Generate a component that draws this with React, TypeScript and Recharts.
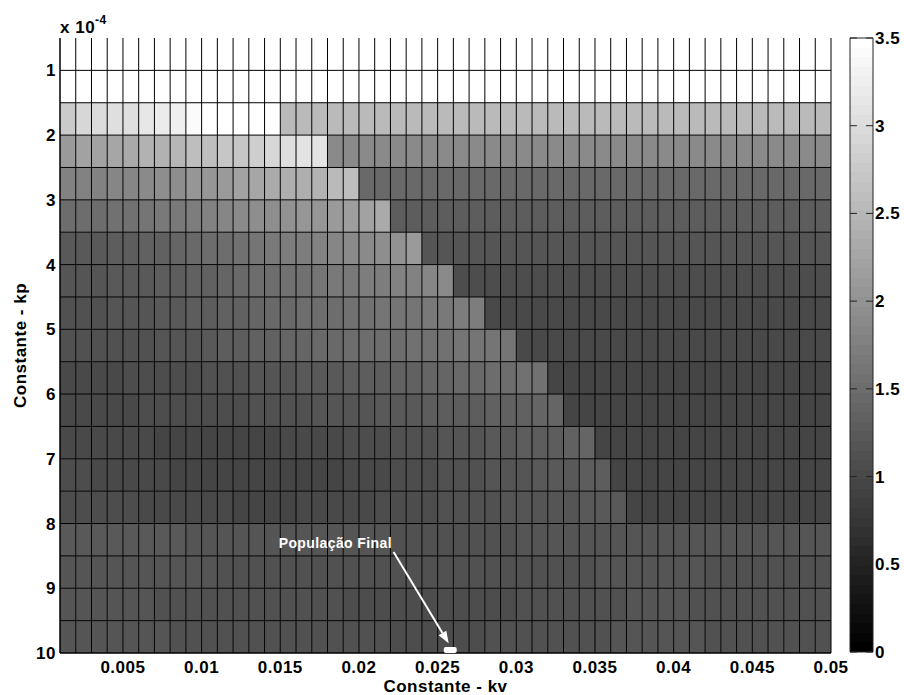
import React from 'react';
import {
  ComposedChart,
  XAxis,
  YAxis,
  ReferenceArea,
  ReferenceLine,
  ReferenceDot,
  Scatter,
} from 'recharts';

// cell edges: kv on x, kp on y (kp in units of 1e-4)
const kvEdges = [
  0.001, 0.002, 0.003, 0.004, 0.005, 0.006, 0.007, 0.008, 0.009, 0.01,
  0.011, 0.012, 0.013, 0.014, 0.015, 0.016, 0.017, 0.018, 0.019, 0.02,
  0.021, 0.022, 0.023, 0.024, 0.025, 0.026, 0.027, 0.028, 0.029, 0.03,
  0.031, 0.032, 0.033, 0.034, 0.035, 0.036, 0.037, 0.038, 0.039, 0.04,
  0.041, 0.042, 0.043, 0.044, 0.045, 0.046, 0.047, 0.048, 0.049, 0.05,
];
const kpEdges = [0.5, 1, 1.5, 2, 2.5, 3, 3.5, 4, 4.5, 5, 5.5, 6, 6.5, 7, 7.5, 8, 8.5, 9, 9.5, 10];

const xTicks = [0.005, 0.01, 0.015, 0.02, 0.025, 0.03, 0.035, 0.04, 0.045, 0.05];
const yTicks = [1, 2, 3, 4, 5, 6, 7, 8, 9, 10];
const colorTicks = [0, 0.5, 1, 1.5, 2, 2.5, 3, 3.5];

// one row of cells per kp band, 49 kv columns each
const kp05 = [
  3.5, 3.5, 3.5, 3.5, 3.5, 3.5, 3.5,
  3.5, 3.5, 3.5, 3.5, 3.5, 3.5, 3.5,
  3.5, 3.5, 3.5, 3.5, 3.5, 3.5, 3.5,
  3.5, 3.5, 3.5, 3.5, 3.5, 3.5, 3.5,
  3.5, 3.5, 3.5, 3.5, 3.5, 3.5, 3.5,
  3.5, 3.5, 3.5, 3.5, 3.5, 3.5, 3.5,
  3.5, 3.5, 3.5, 3.5, 3.5, 3.5, 3.5,
];
const kp10 = [
  3.5, 3.5, 3.5, 3.5, 3.5, 3.5, 3.5,
  3.5, 3.5, 3.5, 3.5, 3.5, 3.5, 3.5,
  3.5, 3.5, 3.5, 3.5, 3.5, 3.5, 3.5,
  3.5, 3.5, 3.5, 3.5, 3.5, 3.5, 3.5,
  3.5, 3.5, 3.5, 3.5, 3.5, 3.5, 3.5,
  3.5, 3.5, 3.5, 3.5, 3.5, 3.5, 3.5,
  3.5, 3.5, 3.5, 3.5, 3.5, 3.5, 3.5,
];
const kp15 = [
  2.75, 2.92, 2.97, 3.03, 3.06, 3.16, 3.2,
  3.24, 3.4, 3.5, 3.5, 3.5, 3.5, 3.5,
  2.53, 2.52, 2.53, 2.53, 2.52, 2.53, 2.53,
  2.53, 2.52, 2.53, 2.53, 2.52, 2.53, 2.53,
  2.53, 2.52, 2.53, 2.53, 2.53, 2.52, 2.53,
  2.53, 2.53, 2.52, 2.53, 2.53, 2.53, 2.52,
  2.53, 2.53, 2.52, 2.53, 2.53, 2.52, 2.53,
];
const kp20 = [
  2.13, 2.2, 2.2, 2.26, 2.31, 2.42, 2.44,
  2.48, 2.59, 2.61, 2.68, 2.72, 2.8, 2.9,
  3.02, 3.07, 3.11, 1.89, 1.88, 1.89, 1.89,
  1.89, 1.88, 1.89, 1.89, 1.89, 1.88, 1.89,
  1.89, 1.89, 1.88, 1.89, 1.89, 1.89, 1.88,
  1.89, 1.89, 1.89, 1.88, 1.89, 1.89, 1.89,
  1.88, 1.89, 1.89, 1.89, 1.88, 1.89, 1.89,
];
const kp25 = [
  1.75, 1.76, 1.78, 1.81, 1.85, 1.89, 1.92,
  1.95, 2.03, 2.06, 2.12, 2.2, 2.28, 2.31,
  2.36, 2.4, 2.45, 2.52, 2.61, 1.43, 1.44,
  1.43, 1.43, 1.44, 1.43, 1.43, 1.43, 1.44,
  1.43, 1.43, 1.44, 1.43, 1.43, 1.43, 1.44,
  1.43, 1.43, 1.43, 1.44, 1.43, 1.43, 1.44,
  1.43, 1.43, 1.44, 1.43, 1.43, 1.43, 1.44,
];
const kp30 = [
  1.48, 1.5, 1.51, 1.54, 1.58, 1.62, 1.65,
  1.67, 1.72, 1.76, 1.81, 1.87, 1.93, 1.96,
  1.99, 2.03, 2.07, 2.13, 2.18, 2.24, 2.3,
  1.26, 1.27, 1.26, 1.26, 1.27, 1.26, 1.26,
  1.27, 1.26, 1.26, 1.26, 1.27, 1.26, 1.26,
  1.26, 1.27, 1.26, 1.26, 1.26, 1.27, 1.26,
  1.26, 1.26, 1.27, 1.26, 1.26, 1.26, 1.27,
];
const kp35 = [
  1.22, 1.23, 1.25, 1.27, 1.3, 1.33, 1.36,
  1.4, 1.44, 1.48, 1.52, 1.57, 1.62, 1.66,
  1.7, 1.74, 1.78, 1.82, 1.86, 1.9, 1.95,
  2.0, 2.08, 1.15, 1.16, 1.15, 1.15, 1.16,
  1.15, 1.15, 1.15, 1.16, 1.15, 1.15, 1.15,
  1.16, 1.15, 1.15, 1.15, 1.16, 1.15, 1.15,
  1.15, 1.16, 1.15, 1.15, 1.15, 1.16, 1.15,
];
const kp40 = [
  1.17, 1.18, 1.19, 1.21, 1.22, 1.24, 1.26,
  1.29, 1.32, 1.35, 1.39, 1.43, 1.48, 1.52,
  1.55, 1.58, 1.62, 1.65, 1.68, 1.71, 1.74,
  1.77, 1.8, 1.83, 1.87, 1.07, 1.08, 1.07,
  1.07, 1.07, 1.08, 1.07, 1.07, 1.07, 1.08,
  1.07, 1.07, 1.07, 1.08, 1.07, 1.07, 1.07,
  1.08, 1.07, 1.07, 1.07, 1.08, 1.07, 1.07,
];
const kp45 = [
  1.13, 1.13, 1.14, 1.15, 1.17, 1.19, 1.21,
  1.24, 1.27, 1.3, 1.33, 1.36, 1.4, 1.43,
  1.46, 1.48, 1.51, 1.53, 1.56, 1.58, 1.6,
  1.62, 1.64, 1.66, 1.68, 1.7, 1.73, 1.02,
  1.03, 1.02, 1.02, 1.02, 1.03, 1.02, 1.02,
  1.02, 1.03, 1.02, 1.02, 1.02, 1.03, 1.02,
  1.02, 1.02, 1.03, 1.02, 1.02, 1.02, 1.03,
];
const kp50 = [
  1.1, 1.1, 1.11, 1.12, 1.13, 1.14, 1.16,
  1.18, 1.2, 1.23, 1.26, 1.29, 1.32, 1.35,
  1.38, 1.41, 1.44, 1.46, 1.48, 1.5, 1.52,
  1.53, 1.55, 1.56, 1.58, 1.59, 1.61, 1.62,
  1.64, 0.99, 1.0, 0.99, 0.99, 0.99, 1.0,
  0.99, 0.99, 0.99, 1.0, 0.99, 0.99, 0.99,
  1.0, 0.99, 0.99, 0.99, 1.0, 0.99, 0.99,
];
const kp55 = [
  1.02, 1.02, 1.03, 1.03, 1.04, 1.05, 1.06,
  1.07, 1.08, 1.1, 1.11, 1.13, 1.15, 1.17,
  1.19, 1.21, 1.23, 1.25, 1.27, 1.29, 1.31,
  1.33, 1.35, 1.37, 1.39, 1.43, 1.46, 1.48,
  1.51, 1.55, 1.57, 0.95, 0.94, 0.95, 0.95,
  0.95, 0.94, 0.95, 0.95, 0.95, 0.94, 0.95,
  0.95, 0.95, 0.94, 0.95, 0.95, 0.95, 0.94,
];
const kp60 = [
  1.02, 1.02, 1.02, 1.03, 1.03, 1.04, 1.04,
  1.05, 1.06, 1.07, 1.08, 1.09, 1.1, 1.11,
  1.12, 1.13, 1.15, 1.16, 1.18, 1.2, 1.21,
  1.23, 1.25, 1.26, 1.28, 1.29, 1.31, 1.32,
  1.34, 1.35, 1.37, 1.4, 0.95, 0.94, 0.95,
  0.95, 0.95, 0.94, 0.95, 0.95, 0.95, 0.94,
  0.95, 0.95, 0.95, 0.94, 0.95, 0.95, 0.95,
];
const kp65 = [
  1.02, 1.01, 1.01, 1.0, 1.0, 0.99, 0.98,
  0.98, 0.97, 0.97, 0.97, 0.97, 0.98, 0.98,
  0.99, 1.0, 1.01, 1.02, 1.04, 1.06, 1.08,
  1.1, 1.12, 1.14, 1.16, 1.18, 1.2, 1.22,
  1.24, 1.26, 1.28, 1.31, 1.34, 1.37, 0.95,
  0.95, 0.94, 0.95, 0.95, 0.95, 0.94, 0.95,
  0.95, 0.95, 0.94, 0.95, 0.95, 0.95, 0.94,
];
const kp70 = [
  1.04, 1.04, 1.03, 1.02, 1.01, 1.0, 0.99,
  0.98, 0.97, 0.96, 0.96, 0.95, 0.95, 0.95,
  0.95, 0.96, 0.97, 0.98, 0.99, 1.0, 1.02,
  1.04, 1.06, 1.08, 1.1, 1.12, 1.14, 1.16,
  1.18, 1.19, 1.21, 1.23, 1.25, 1.27, 1.29,
  0.96, 0.95, 0.96, 0.96, 0.96, 0.95, 0.96,
  0.96, 0.96, 0.95, 0.96, 0.96, 0.96, 0.95,
];
const kp75 = [
  1.07, 1.07, 1.06, 1.05, 1.04, 1.03, 1.02,
  1.01, 1.0, 0.99, 0.99, 0.98, 0.98, 0.98,
  0.98, 0.99, 0.99, 1.0, 1.01, 1.02, 1.04,
  1.05, 1.07, 1.08, 1.1, 1.11, 1.13, 1.14,
  1.15, 1.16, 1.17, 1.18, 1.19, 1.21, 1.22,
  1.24, 0.98, 0.97, 0.98, 0.98, 0.98, 0.97,
  0.98, 0.98, 0.98, 0.97, 0.98, 0.98, 0.98,
];
const kp80 = [
  1.24, 1.24, 1.23, 1.23, 1.22, 1.22, 1.21,
  1.21, 1.2, 1.2, 1.19, 1.19, 1.18, 1.18,
  1.18, 1.17, 1.17, 1.16, 1.16, 1.15, 1.15,
  1.14, 1.14, 1.14, 1.13, 1.13, 1.13, 1.14,
  1.14, 1.15, 1.15, 1.16, 1.16, 1.17, 1.17,
  1.17, 1.18, 1.18, 1.18, 1.18, 1.19, 1.19,
  1.19, 1.19, 1.19, 1.2, 1.2, 1.2, 1.2,
];
const kp85 = [
  1.19, 1.19, 1.18, 1.18, 1.17, 1.17, 1.16,
  1.16, 1.15, 1.15, 1.14, 1.14, 1.13, 1.13,
  1.13, 1.12, 1.12, 1.12, 1.11, 1.11, 1.11,
  1.1, 1.1, 1.1, 1.1, 1.1, 1.1, 1.11,
  1.11, 1.12, 1.12, 1.13, 1.13, 1.14, 1.15,
  1.16, 1.17, 1.17, 1.17, 1.16, 1.15, 1.14,
  1.14, 1.13, 1.13, 1.13, 1.12, 1.12, 1.12,
];
const kp90 = [
  1.17, 1.17, 1.16, 1.16, 1.15, 1.15, 1.14,
  1.14, 1.13, 1.13, 1.12, 1.12, 1.11, 1.11,
  1.11, 1.1, 1.1, 1.1, 1.09, 1.09, 1.09,
  1.09, 1.08, 1.08, 1.08, 1.08, 1.08, 1.09,
  1.09, 1.1, 1.1, 1.11, 1.11, 1.12, 1.13,
  1.14, 1.15, 1.16, 1.16, 1.15, 1.14, 1.13,
  1.12, 1.11, 1.11, 1.1, 1.1, 1.1, 1.1,
];
const kp95 = [
  1.17, 1.17, 1.16, 1.16, 1.16, 1.15, 1.15,
  1.14, 1.14, 1.13, 1.13, 1.12, 1.12, 1.12,
  1.11, 1.11, 1.11, 1.1, 1.1, 1.1, 1.1,
  1.09, 1.09, 1.09, 1.09, 1.09, 1.09, 1.1,
  1.1, 1.11, 1.11, 1.12, 1.12, 1.13, 1.14,
  1.15, 1.16, 1.17, 1.17, 1.16, 1.15, 1.14,
  1.13, 1.12, 1.12, 1.11, 1.11, 1.11, 1.11,
];

const zRows = [
  kp05, kp10, kp15, kp20, kp25, kp30, kp35, kp40, kp45, kp50,
  kp55, kp60, kp65, kp70, kp75, kp80, kp85, kp90, kp95,
];

// annotation
const finalPopulation = [{ kv: 0.0258, kp: 10 }];
const arrowFrom = { x: 0.0222, y: 8.44 };
const arrowTo = { x: 0.0257, y: 9.85 };
const labelAt = { x: 0.0185, y: 8.3 };

const C_MAX = 3.5;
const LEVELS = 64;
const FONT = 'Arial, "Liberation Sans", Helvetica, sans-serif';

// matlab style gray colormap, 64 levels
const levelGray = (level: number) => {
  const g = Math.round((level / (LEVELS - 1)) * 255);
  return `rgb(${g},${g},${g})`;
};
const gray = (v: number) =>
  levelGray(Math.min(LEVELS - 1, Math.max(0, Math.floor((v / C_MAX) * LEVELS))));

// stepped gradient for the colorbar (top = white)
const barStops: { offset: number; color: string }[] = [];
for (let l = LEVELS - 1; l >= 0; l--) {
  const top = (LEVELS - 1 - l) / LEVELS;
  barStops.push({ offset: top, color: levelGray(l) });
  barStops.push({ offset: top + 1 / LEVELS, color: levelGray(l) });
}

const tickStyle = { fill: '#000', fontSize: 17, fontWeight: 700, fontFamily: FONT, letterSpacing: 0.5 };

const Arrow = (p: any) => {
  const { x1, y1, x2, y2 } = p;
  const ang = Math.atan2(y2 - y1, x2 - x1);
  const len = 12;
  const half = 4.5;
  const bx = x2 - len * Math.cos(ang);
  const by = y2 - len * Math.sin(ang);
  const nx = -Math.sin(ang) * half;
  const ny = Math.cos(ang) * half;
  return (
    <g>
      <line x1={x1} y1={y1} x2={bx} y2={by} stroke="#fff" strokeWidth={2} />
      <polygon points={`${x2},${y2} ${bx + nx},${by + ny} ${bx - nx},${by - ny}`} fill="#fff" />
    </g>
  );
};

const Marker = (p: any) => (
  <rect x={p.cx - 6.5} y={p.cy - 6} width={13} height={6} rx={2} fill="#fff" />
);

const NoMark = () => <g />;

export default function App() {
  const cells: { x1: number; x2: number; y1: number; y2: number; v: number }[] = [];
  zRows.forEach((row, i) =>
    row.forEach((v, j) =>
      cells.push({ x1: kvEdges[j], x2: kvEdges[j + 1], y1: kpEdges[i], y2: kpEdges[i + 1], v })
    )
  );
  const barTicks = colorTicks.map((c) => ({ x: 0.5, c }));

  return (
    <div style={{ position: 'absolute', left: 0, top: 0, width: 904, height: 695, fontFamily: FONT }}>
      <div style={{ position: 'absolute', left: 0, top: 0 }}>
        <ComposedChart width={904} height={695} margin={{ top: 38, right: 73, bottom: 0, left: 0 }}>
          <XAxis
            type="number"
            dataKey="kv"
            domain={[0.001, 0.05]}
            ticks={xTicks}
            interval={0}
            tickLine={false}
            axisLine={{ stroke: '#000' }}
            tick={tickStyle}
            tickSize={6}
            tickMargin={2}
            height={42}
            label={{ value: 'Constante - kv', position: 'insideBottom', offset: 3, ...tickStyle }}
          />
          <YAxis
            type="number"
            dataKey="kp"
            domain={[0.5, 10]}
            reversed
            ticks={yTicks}
            interval={0}
            tickLine={false}
            axisLine={{ stroke: '#000' }}
            tick={tickStyle}
            tickSize={2}
            tickMargin={2}
            width={60}
            label={{
              value: 'Constante - kp',
              angle: -90,
              position: 'insideLeft',
              offset: 20,
              ...tickStyle,
              style: { textAnchor: 'middle' },
            }}
          />
          {cells.map((c, k) => (
            <ReferenceArea
              key={`c${k}`}
              x1={c.x1}
              x2={c.x2}
              y1={c.y1}
              y2={c.y2}
              fill={gray(c.v)}
              fillOpacity={1}
              stroke="none"
              ifOverflow="visible"
            />
          ))}
          {kvEdges.map((x) => (
            <ReferenceLine key={`vx${x}`} x={x} stroke="#000" strokeWidth={1} ifOverflow="visible" />
          ))}
          {kpEdges.slice(1).map((y) => (
            <ReferenceLine key={`hy${y}`} y={y} stroke="#000" strokeWidth={1} ifOverflow="visible" />
          ))}
          <ReferenceLine segment={[arrowFrom, arrowTo]} shape={Arrow} ifOverflow="visible" />
          <ReferenceDot
            x={labelAt.x}
            y={labelAt.y}
            r={0}
            stroke="none"
            fill="none"
            ifOverflow="visible"
            label={{ value: 'População Final', position: 'center', fill: '#fff', fontSize: 14, fontWeight: 700, fontFamily: FONT, letterSpacing: 0.4 }}
          />
          <Scatter data={finalPopulation} dataKey="kp" shape={Marker} isAnimationActive={false} />
          <text x={60} y={33} fill="#000" fontSize={17} fontWeight={700} fontFamily={FONT} letterSpacing={0.5}>
            x 10
            <tspan dy={-9} fontSize={12}>-4</tspan>
          </text>
        </ComposedChart>
      </div>
      <div style={{ position: 'absolute', left: 840, top: 0 }}>
        <ComposedChart width={64} height={695} margin={{ top: 38, right: 0, bottom: 43, left: 10 }}>
          <defs>
            <linearGradient id="grayMap" x1="0" y1="0" x2="0" y2="1">
              {barStops.map((s, k) => (
                <stop key={k} offset={s.offset} stopColor={s.color} />
              ))}
            </linearGradient>
          </defs>
          <XAxis type="number" dataKey="x" domain={[0, 1]} hide />
          <YAxis
            type="number"
            dataKey="c"
            orientation="right"
            domain={[0, C_MAX]}
            ticks={colorTicks}
            interval={0}
            tickLine={false}
            axisLine={false}
            tick={tickStyle}
            tickSize={2}
            tickMargin={0}
            width={31}
          />
          <ReferenceArea x1={0} x2={1} y1={0} y2={C_MAX} fill="url(#grayMap)" fillOpacity={1} stroke="#222" ifOverflow="visible" />
          {colorTicks.map((t) => (
            <ReferenceLine key={`l${t}`} segment={[{ x: 0, y: t }, { x: 0.3, y: t }]} stroke="#222" ifOverflow="visible" />
          ))}
          {colorTicks.map((t) => (
            <ReferenceLine key={`r${t}`} segment={[{ x: 0.7, y: t }, { x: 1, y: t }]} stroke="#222" ifOverflow="visible" />
          ))}
          <Scatter data={barTicks} dataKey="c" shape={NoMark} isAnimationActive={false} />
        </ComposedChart>
      </div>
    </div>
  );
}
